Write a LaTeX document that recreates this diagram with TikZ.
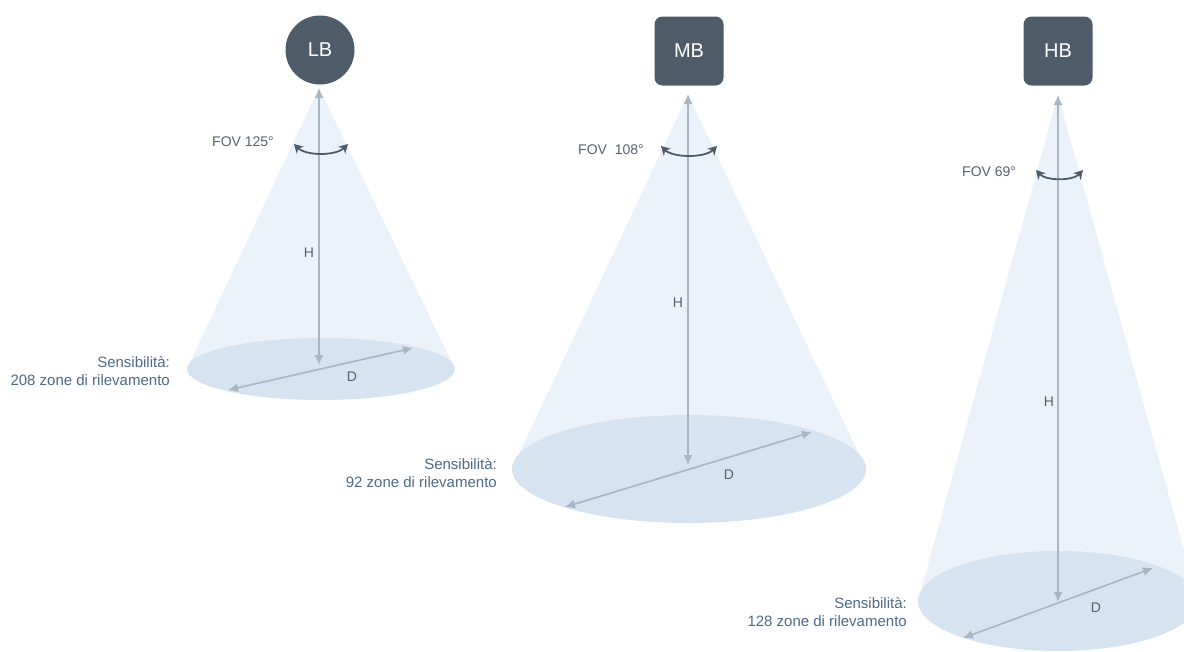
\documentclass[tikz,border=0pt]{standalone}
\usepackage{fontspec}
\setmainfont{Liberation Sans}
\usetikzlibrary{positioning, arrows.meta, calc}
\definecolor{sensorgray}{HTML}{4E5B69}
\definecolor{axisgray}{HTML}{A8B6C4}
\definecolor{labelgray}{HTML}{56636F}
\definecolor{sensblue}{HTML}{4F6A86}
\definecolor{floorblue}{HTML}{D6E3F0}
\definecolor{conefill}{HTML}{ECF2FA}

\begin{document}
\begin{tikzpicture}[x=1pt, y=-1pt,
    sensor/.style={fill=sensorgray, text=white, minimum width=69pt, minimum height=69pt, rounded corners=8pt, inner sep=0pt, font=\fontsize{20}{22}\selectfont},
    sensorround/.style={sensor, circle, minimum size=69pt},
    cone/.style={fill=conefill, draw=none},
    floor/.style={fill=floorblue, draw=none},
    axis/.style={{Latex[length=10pt,width=9pt]}-{Latex[length=10pt,width=9pt]}, draw=axisgray, line width=1.6pt},
    fovarc/.style={{Stealth[length=9pt,width=10pt]}-{Stealth[length=9pt,width=10pt]}, draw=sensorgray, line width=1.8pt},
    lbl/.style={text=labelgray, font=\fontsize{14}{16}\selectfont, inner sep=0pt},
    sens/.style={text=sensblue, font=\fontsize{15}{18}\selectfont, align=right, anchor=east, inner sep=0pt}
]
\clip (0,0) rectangle (1184,651);
\fill[white] (0,0) rectangle (1184,651);

% Cones and floors
\fill[cone] (319,88) -- (187,369) -- (455,369) -- cycle;
\fill[floor] (321,369) ellipse [x radius=134, y radius=31];
\fill[cone] (688,95) -- (512,469) -- (866,469) -- cycle;
\fill[floor] (689,469) ellipse [x radius=177, y radius=54];
\fill[cone] (1058,95) -- (918,601) -- (1198,601) -- cycle;
\fill[floor] (1058,601) ellipse [x radius=140, y radius=50];

% Nodes
\node[sensorround] (lb) at (320,50) {LB};
\node[sensor] (mb) at (689,51) {MB};
\node[sensor] (hb) at (1058,51) {HB};

\coordinate (lbtop) at (319,88);
\coordinate (lbfloor) at (319,365);
\coordinate (mbtop) at (688,94);
\coordinate (mbfloor) at (688,465);
\coordinate (hbtop) at (1058,95);
\coordinate (hbfloor) at (1058,602);

\coordinate (lbdl) at (228,390);
\coordinate (lbdr) at (413,348);
\coordinate (mbdl) at (565,507);
\coordinate (mbdr) at (812,432);
\coordinate (hbdl) at (963,638);
\coordinate (hbdr) at (1153,568);

\coordinate (lbfl) at (294,144);
\coordinate (lbfr) at (348,144);
\coordinate (mbfl) at (661,146);
\coordinate (mbfr) at (717,146);
\coordinate (hbfl) at (1036,170);
\coordinate (hbfr) at (1083,170);

% Labels
\node[lbl, anchor=west] (lbfov) at (212,142) {FOV 125°};
\node[lbl, anchor=west] (mbfov) at (578,150) {FOV\ \ 108°};
\node[lbl, anchor=west] (hbfov) at (962,172) {FOV 69°};
\node[lbl] (lbh) at (309,253) {H};
\node[lbl] (mbh) at (678,303) {H};
\node[lbl] (hbh) at (1049,402) {H};
\node[lbl] (lbd) at (352,377) {D};
\node[lbl] (mbd) at (729,475) {D};
\node[lbl] (hbd) at (1096,608) {D};
\node[sens] (lbsens) at (170,371) {Sensibilità:\\208 zone di rilevamento};
\node[sens] (mbsens) at (497,473) {Sensibilità:\\92 zone di rilevamento};
\node[sens] (hbsens) at (907,612) {Sensibilità:\\128 zone di rilevamento};

% Edges
\draw[axis] (lbtop) -- (lbfloor);
\draw[axis] (mbtop) -- (mbfloor);
\draw[axis] (hbtop) -- (hbfloor);
\draw[axis] (lbdl) -- (lbdr);
\draw[axis] (mbdl) -- (mbdr);
\draw[axis] (hbdl) -- (hbdr);
\draw[fovarc] (lbfl) .. controls ($(lbfl)+(12,12)$) and ($(lbfr)+(-12,12)$) .. (lbfr);
\draw[fovarc] (mbfl) .. controls ($(mbfl)+(12,12)$) and ($(mbfr)+(-12,12)$) .. (mbfr);
\draw[fovarc] (hbfl) .. controls ($(hbfl)+(10,11)$) and ($(hbfr)+(-10,11)$) .. (hbfr);

\end{tikzpicture}
\end{document}
